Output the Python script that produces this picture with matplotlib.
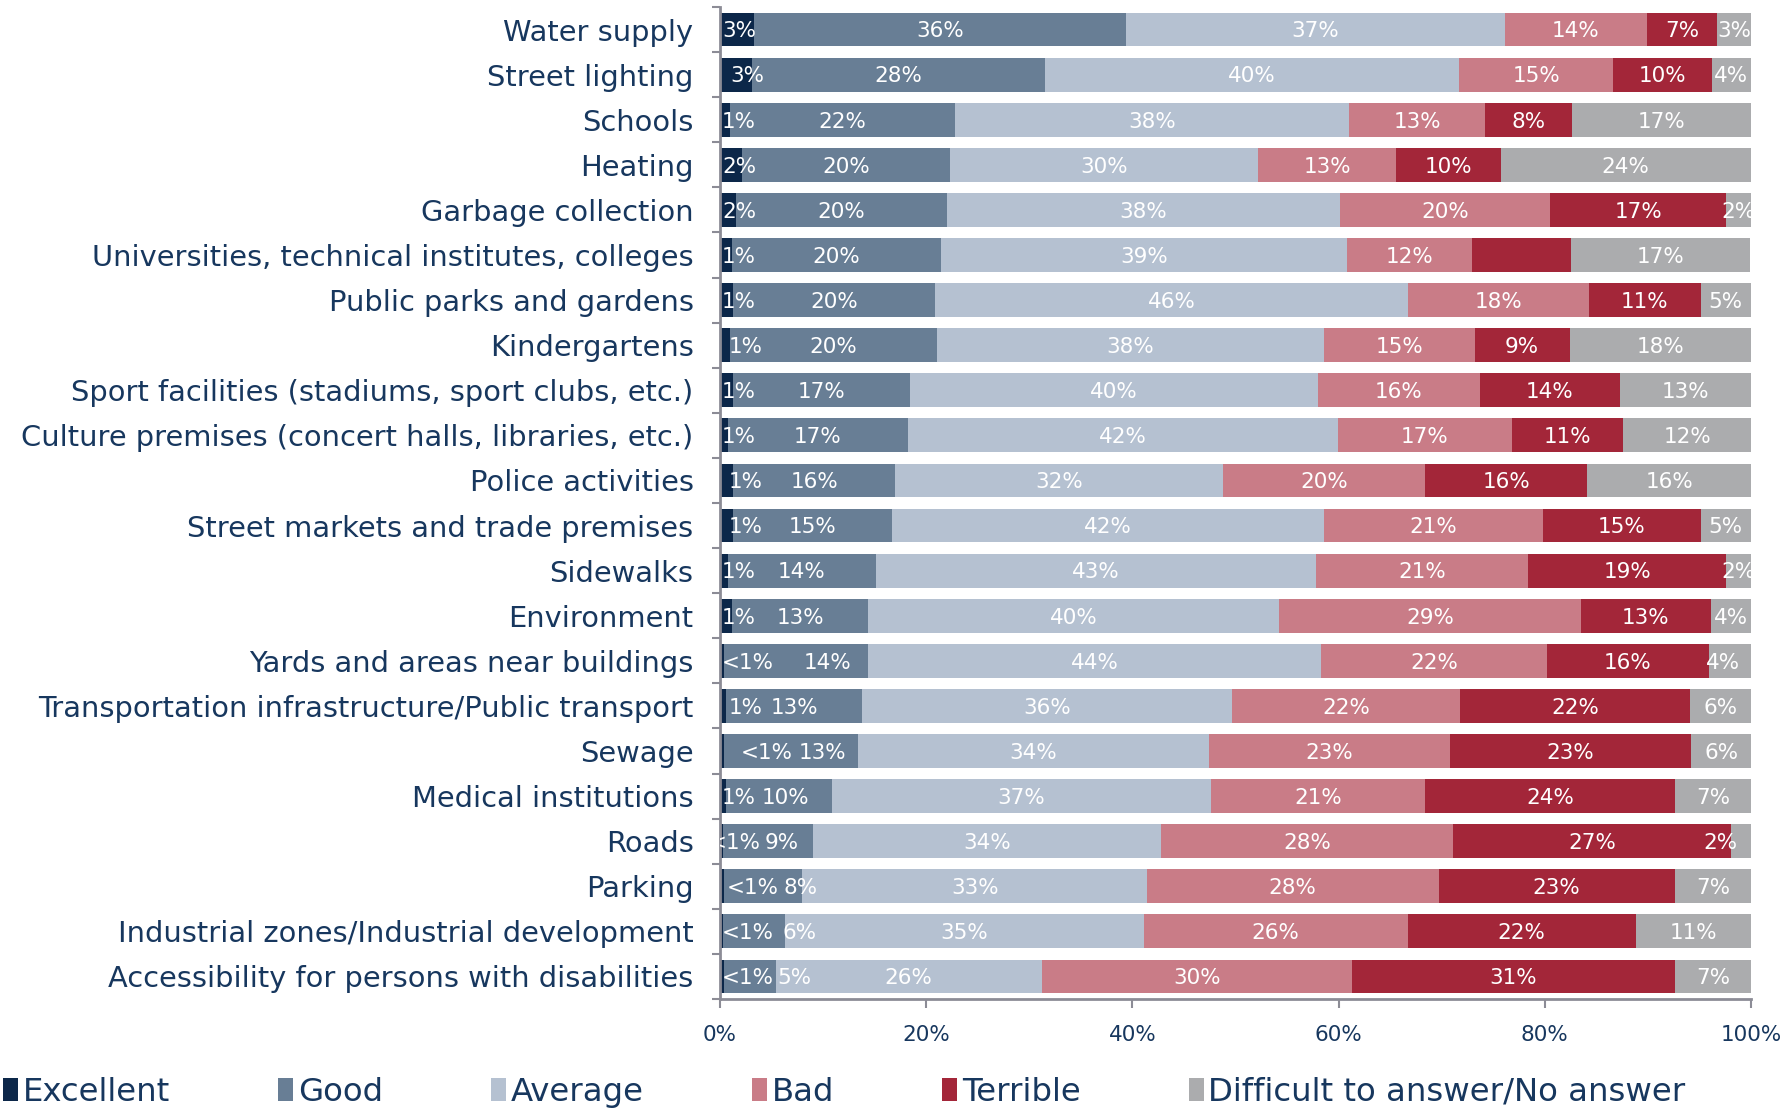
import numpy as np
import matplotlib.pyplot as plt
from matplotlib.patches import Patch

plt.rcParams['font.family'] = ['DejaVu Sans']

categories = [
    'Water supply', 'Street lighting', 'Schools', 'Heating', 'Garbage collection',
    'Universities, technical institutes, colleges', 'Public parks and gardens',
    'Kindergartens', 'Sport facilities (stadiums, sport clubs, etc.)',
    'Culture premises (concert halls, libraries, etc.)', 'Police activities',
    'Street markets and trade premises', 'Sidewalks', 'Environment',
    'Yards and areas near buildings', 'Transportation infrastructure/Public transport',
    'Sewage', 'Medical institutions', 'Roads', 'Parking',
    'Industrial zones/Industrial development', 'Accessibility for persons with disabilities',
]

# shares in % (labels are rounded)
excellent = [3.3, 3.1, 1.0, 2.1, 1.6, 1.2, 1.3, 1.0, 1.3, 0.8, 1.3,
             1.3, 0.8, 1.2, 0.4, 0.6, 0.4, 0.6, 0.3, 0.4, 0.3, 0.4]
good = [36.1, 28.4, 21.8, 20.2, 20.4, 20.2, 19.6, 20.0, 17.1, 17.4, 15.7,
        15.4, 14.3, 13.2, 14.0, 13.2, 13.0, 10.3, 8.7, 7.6, 6.0, 5.0]
average = [36.7, 40.2, 38.2, 29.9, 38.1, 39.4, 45.8, 37.6, 39.6, 41.7, 31.8,
           41.9, 42.7, 39.8, 43.9, 35.9, 34.0, 36.7, 33.8, 33.4, 34.8, 25.8]
bad = [13.8, 14.9, 13.2, 13.4, 20.4, 12.1, 17.6, 14.6, 15.7, 16.9, 19.6,
       21.2, 20.6, 29.3, 21.9, 22.1, 23.4, 20.8, 28.3, 28.3, 25.6, 30.1]
terrible = [6.8, 9.6, 8.4, 10.1, 17.1, 9.6, 10.8, 9.2, 13.6, 10.8, 15.7,
            15.3, 19.2, 12.6, 15.7, 22.3, 23.4, 24.2, 27.0, 22.9, 22.1, 31.3]
no_answer = [3.3, 3.8, 17.4, 24.3, 2.4, 17.4, 4.9, 17.6, 12.7, 12.4, 15.9,
             4.9, 2.4, 3.9, 4.1, 5.9, 5.8, 7.4, 1.9, 7.4, 11.2, 7.4]

series_names = ['Excellent', 'Good', 'Average', 'Bad', 'Terrible',
                'Difficult to answer/No answer']
series = [excellent, good, average, bad, terrible, no_answer]
colors = ['#0c2749', '#687e95', '#b5c1d1', '#c97c87', '#a32639', '#abacae']

navy = '#17375e'
grey = '#8c8c96'

# label nudges (in % units) where the original moved labels apart
nudge = {
    (1, 0): 0.8, (7, 0): 0.6, (10, 0): 0.6, (11, 0): 0.6, (15, 0): 0.6,
    (16, 0): 1.8, (18, 0): -1.3, (19, 0): 0.5,
    (14, 1): 3.0, (16, 1): 3.0, (17, 1): 0.6, (18, 1): 1.3, (19, 1): 3.6,
    (20, 1): 4.4, (21, 1): 4.3,
    (14, 5): -0.7, (18, 5): -2.0,
}
hidden = {(5, 4)}

fig = plt.figure(figsize=(17.87, 11.09), dpi=100)
ax = fig.add_axes([0.4029, 0.0992, 0.577, 0.8945])

y = np.arange(len(categories))
left = np.zeros(len(categories))
for s, (name, vals, col) in enumerate(zip(series_names, series, colors)):
    vals = np.array(vals)
    ax.barh(y, vals, left=left, height=0.75, color=col, label=name)
    for i, v in enumerate(vals):
        if (i, s) in hidden:
            continue
        txt = '<1%' if v < 0.5 else f'{round(v)}%'
        dx = nudge.get((i, s), 0)
        if s == 0:
            ax.text(0.2 + dx, i + 0.04, txt, ha='left', va='center', color='white',
                    fontsize=15.5, clip_on=True)
        else:
            ax.text(left[i] + v / 2 + dx, i + 0.04, txt, ha='center', va='center',
                    color='white', fontsize=15.5)
    left += vals

ax.set_xlim(0, 100)
ax.set_ylim(len(categories) - 0.5, -0.5)
ax.set_yticks(y)
ax.set_yticklabels(categories, fontsize=20.8, color=navy)
ax.tick_params(axis='y', which='major', length=0, pad=19)
ax.set_yticks(np.arange(len(categories) + 1) - 0.5, minor=True)
ax.tick_params(axis='y', which='minor', length=6, width=1.5, color=grey, direction='out')

ax.set_xticks([0, 20, 40, 60, 80, 100])
ax.set_xticklabels(['0%', '20%', '40%', '60%', '80%', '100%'], fontsize=15.5, color=navy)
ax.tick_params(axis='x', length=6.5, width=1.5, color=grey, pad=12)

for side in ['top', 'right']:
    ax.spines[side].set_visible(False)
for side in ['left', 'bottom']:
    ax.spines[side].set_color(grey)
    ax.spines[side].set_linewidth(2)

handles = [Patch(facecolor=c, edgecolor='none') for c in colors]
leg = fig.legend(handles, series_names, loc='center left', bbox_to_anchor=(0.0, 0.015),
                 ncol=6, frameon=False, fontsize=23.3, handlelength=0.45, handleheight=0.75,
                 handletextpad=0.15, columnspacing=3.35, borderpad=0.1, borderaxespad=0)
for t in leg.get_texts():
    t.set_color(navy)

fig.savefig('out.png', dpi=100)
